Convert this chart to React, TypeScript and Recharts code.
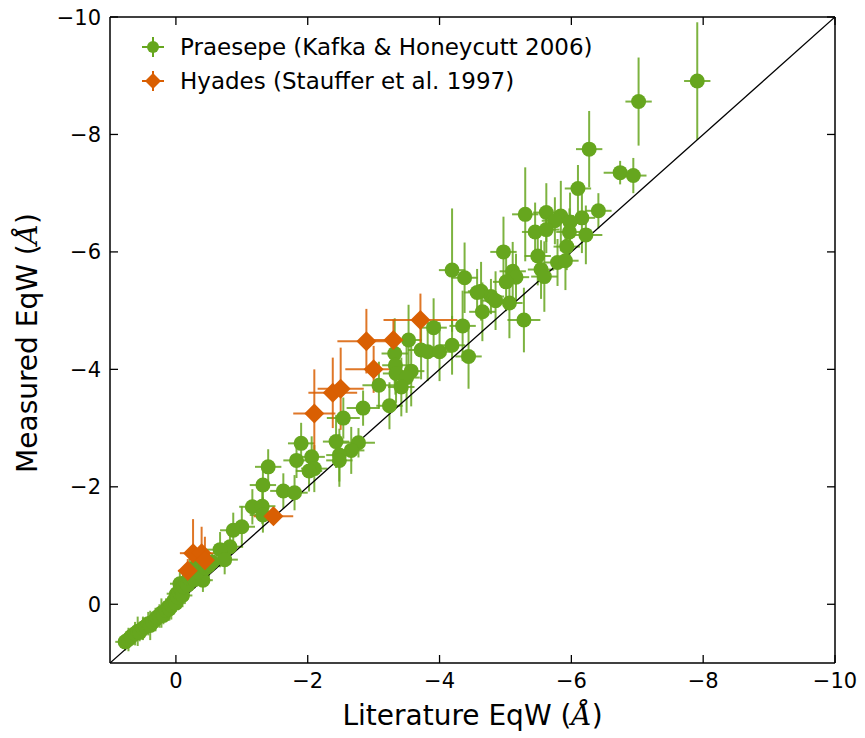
import React from "react";
import { ScatterChart, Scatter, XAxis, YAxis, ErrorBar, Legend } from "recharts";

// Praesepe (Kafka & Honeycutt 2006)
const praesepeLit = [
  -7.91, -7.02, -6.27, -6.74, -6.94, -6.1, -6.41, -6.16, -5.3, -5.62,
  -5.84, -5.75, -5.98, -5.45, -5.62, -5.97, -6.22, -4.97, -5.49, -5.93,
  -5.79, -5.91, -5.54, -5.59, -5.11, -5.16, -5.01, -4.78, -4.85, -5.06,
  -4.63, -4.65, -5.28, -4.19, -4.38, -4.57, -4.35, -4.19, -4.44, -3.91,
  -3.53, -3.32, -3.72, -3.82, -4.0, -3.33, -3.34, -3.57, -3.5, -3.42,
  -3.08, -3.24, -2.84, -2.54, -1.9, -2.43, -2.77, -2.66, -2.48, -2.48,
  -1.83, -2.06, -2.1, -2.02, -1.63, -1.8, -1.4, -1.32, -1.16, -1.31,
  -1.32, -1.0, -0.87, -0.82, -0.67, -0.74, -0.41, -0.3, -0.21, -0.06,
  -0.01,
  0.77, 0.72, 0.68, 0.62, 0.58, 0.55, 0.5, 0.46, 0.42, 0.39,
  0.35, 0.31, 0.29, 0.25, 0.22, 0.19, 0.15, 0.12, 0.1, 0.07,
  0.04, 0.02, 0.0, -0.03, -0.05, -0.08, -0.1, -0.12, -0.15, -0.18,
  -0.2, -0.25, -0.28, -0.33, -0.36, -0.45, -0.5, -0.55,
];
const praesepeMeas = [
  -8.91, -8.56, -7.75, -7.35, -7.3, -7.08, -6.7, -6.58, -6.64, -6.67,
  -6.61, -6.53, -6.51, -6.34, -6.38, -6.34, -6.29, -6.0, -5.93, -6.09,
  -5.82, -5.85, -5.7, -5.58, -5.67, -5.57, -5.49, -5.24, -5.17, -5.13,
  -5.33, -4.98, -4.84, -5.69, -5.56, -5.31, -4.74, -4.41, -4.22, -4.71,
  -4.5, -4.27, -4.33, -4.3, -4.3, -4.07, -3.93, -3.97, -3.86, -3.7,
  -3.73, -3.38, -3.34, -3.17, -2.74, -2.77, -2.75, -2.62, -2.54, -2.45,
  -2.45, -2.51, -2.31, -2.27, -1.93, -1.9, -2.34, -2.03, -1.66, -1.67,
  -1.52, -1.32, -1.26, -0.98, -0.93, -0.76, -0.41, -0.64, -0.58, -0.35,
  -0.18,
  0.64, 0.6, 0.55, 0.5, 0.46, 0.48, 0.41, 0.38, 0.33, 0.36,
  0.3, 0.26, 0.22, 0.2, 0.15, 0.19, 0.1, 0.05, 0.08, 0.01,
  -0.04, -0.08, -0.02, -0.12, -0.2, -0.25, -0.15, -0.3, -0.38, -0.33,
  -0.45, -0.5, -0.42, -0.55, -0.7, -0.62, -0.66, -0.72,
];
const praesepeLitErr = [
  0.2, 0.2, 0.2, 0.25, 0.2, 0.2, 0.2, 0.2, 0.2, 0.2,
  0.2, 0.2, 0.2, 0.2, 0.2, 0.2, 0.25, 0.2, 0.2, 0.2,
  0.2, 0.2, 0.2, 0.2, 0.2, 0.2, 0.2, 0.2, 0.2, 0.2,
  0.2, 0.2, 0.25, 0.2, 0.2, 0.2, 0.2, 0.2, 0.2, 0.2,
  0.2, 0.2, 0.2, 0.2, 0.2, 0.2, 0.2, 0.2, 0.2, 0.2,
  0.25, 0.2, 0.25, 0.25, 0.2, 0.2, 0.25, 0.2, 0.2, 0.2,
  0.2, 0.2, 0.2, 0.2, 0.2, 0.2, 0.2, 0.2, 0.2, 0.2,
  0.2, 0.2, 0.2, 0.2, 0.2, 0.2, 0.15, 0.15, 0.15, 0.15,
  0.15,
  0.15, 0.12, 0.15, 0.12, 0.15, 0.12, 0.15, 0.12, 0.15, 0.12,
  0.15, 0.12, 0.15, 0.12, 0.15, 0.12, 0.15, 0.12, 0.15, 0.12,
  0.15, 0.12, 0.15, 0.12, 0.15, 0.12, 0.15, 0.12, 0.15, 0.12,
  0.15, 0.12, 0.15, 0.12, 0.15, 0.12, 0.15, 0.12,
];
const praesepeMeasErr = [
  1.0, 0.75, 0.65, 0.2, 0.3, 0.4, 0.3, 0.6, 0.8, 0.5,
  0.6, 0.4, 0.5, 0.5, 0.4, 0.4, 0.5, 0.6, 0.5, 0.4,
  0.4, 0.5, 0.5, 0.6, 0.5, 0.4, 0.5, 0.3, 0.5, 0.6,
  0.5, 0.5, 0.55, 1.05, 0.6, 0.4, 0.6, 0.5, 0.55, 0.5,
  0.6, 0.6, 0.5, 0.5, 0.5, 0.5, 0.5, 0.6, 0.6, 0.5,
  0.4, 0.4, 0.3, 0.35, 0.35, 0.45, 0.25, 0.4, 0.45, 0.45,
  0.3, 0.35, 0.4, 0.35, 0.3, 0.3, 0.3, 0.3, 0.3, 0.3,
  0.3, 0.35, 0.3, 0.3, 0.3, 0.25, 0.2, 0.3, 0.3, 0.2,
  0.2,
  0.15, 0.2, 0.15, 0.2, 0.25, 0.15, 0.2, 0.15, 0.2, 0.25,
  0.15, 0.2, 0.15, 0.2, 0.25, 0.15, 0.2, 0.15, 0.2, 0.25,
  0.15, 0.2, 0.15, 0.2, 0.25, 0.15, 0.2, 0.15, 0.2, 0.25,
  0.15, 0.2, 0.15, 0.2, 0.25, 0.15, 0.2, 0.15,
];

// Hyades (Stauffer et al. 1997)
const hyadesLit = [-0.18, -0.26, -0.39, -0.44, -1.48, -2.1, -2.38, -2.5, -2.89, -3.0, -3.3, -3.71];
const hyadesMeas = [-0.57, -0.87, -0.87, -0.75, -1.5, -3.25, -3.6, -3.67, -4.48, -4.0, -4.5, -4.84];
const hyadesLitErr = [0.15, 0.2, 0.2, 0.2, 0.3, 0.32, 0.37, 0.35, 0.44, 0.43, 0.3, 0.56];
const hyadesMeasErr = [0.2, 0.58, 0.45, 0.4, 0.15, 0.75, 0.6, 0.7, 0.55, 0.4, 0.35, 0.45];

const ticks = [0, -2, -4, -6, -8, -10];
const domain: [number, number] = [-10, 1];
const diagonal = [
  { lit: 1, meas: 1 },
  { lit: -10, meas: -10 },
];

const GREEN = "#66a61e";
const ORANGE = "#d95f02";
const FONT = "DejaVu Sans, sans-serif";

const praesepe = praesepeLit.map((lit, i) => ({
  lit,
  meas: praesepeMeas[i],
  litErr: praesepeLitErr[i],
  measErr: praesepeMeasErr[i],
}));
const hyades = hyadesLit.map((lit, i) => ({
  lit,
  meas: hyadesMeas[i],
  litErr: hyadesLitErr[i],
  measErr: hyadesMeasErr[i],
}));

const fmt = (v: number) => (v < 0 ? `\u2212${Math.abs(v)}` : `${v}`);

const BottomTick = ({ x, y, payload }: any) => (
  <g>
    <line x1={x} y1={y} x2={x} y2={y - 8} stroke="#000" strokeWidth={1.3} />
    <text x={x} y={y + 25} textAnchor="middle" fontSize={21} fontFamily={FONT} fill="#000">
      {fmt(payload.value)}
    </text>
  </g>
);
const LeftTick = ({ x, y, payload }: any) => (
  <g>
    <line x1={x} y1={y} x2={x + 8} y2={y} stroke="#000" strokeWidth={1.3} />
    <text x={x - 9} y={y + 7.5} textAnchor="end" fontSize={21} fontFamily={FONT} fill="#000">
      {fmt(payload.value)}
    </text>
  </g>
);
const TopTick = ({ x, y }: any) => (
  <line x1={x} y1={y} x2={x} y2={y + 8} stroke="#000" strokeWidth={1.3} />
);
const RightTick = ({ x, y }: any) => (
  <line x1={x} y1={y} x2={x - 8} y2={y} stroke="#000" strokeWidth={1.3} />
);

const Circle = ({ cx, cy }: any) => <circle cx={cx} cy={cy} r={7.5} fill={GREEN} />;
const Diamond = ({ cx, cy }: any) => (
  <polygon
    points={`${cx},${cy - 10} ${cx + 10},${cy} ${cx},${cy + 10} ${cx - 10},${cy}`}
    fill={ORANGE}
  />
);

const Angstrom = () => (
  <tspan fontFamily="DejaVu Serif, serif" fontStyle="italic">
    Å
  </tspan>
);

const XTitle = ({ viewBox }: any) => (
  <text
    x={viewBox.x + viewBox.width / 2}
    y={viewBox.y + 62}
    textAnchor="middle"
    fontSize={28}
    fontFamily={FONT}
    fill="#000"
  >
    Literature EqW (<Angstrom />)
  </text>
);
const YTitle = () => (
  <text
    x={37}
    y={343}
    transform="rotate(-90, 37, 343)"
    textAnchor="middle"
    fontSize={28}
    fontFamily={FONT}
    fill="#000"
  >
    Measured EqW (<Angstrom />)
  </text>
);

const LegendBox = () => (
  <svg width={480} height={76}>
    <line x1={14} y1={19} x2={36} y2={19} stroke={GREEN} strokeWidth={2} />
    <line x1={25} y1={9} x2={25} y2={29} stroke={GREEN} strokeWidth={2} />
    <circle cx={25} cy={19} r={6} fill={GREEN} />
    <text x={52} y={27} fontSize={23} fontFamily={FONT} fill="#000">
      Praesepe (Kafka &amp; Honeycutt 2006)
    </text>
    <line x1={14} y1={53} x2={36} y2={53} stroke={ORANGE} strokeWidth={2} />
    <line x1={25} y1={43} x2={25} y2={63} stroke={ORANGE} strokeWidth={2} />
    <polygon points="25,45 33,53 25,61 17,53" fill={ORANGE} />
    <text x={52} y={61} fontSize={23} fontFamily={FONT} fill="#000">
      Hyades (Stauffer et al. 1997)
    </text>
  </svg>
);

export default function App() {
  return (
    <div style={{ width: 865, height: 738 }}>
      <style>{"body{margin:0}"}</style>
      <ScatterChart width={865} height={738} margin={{ top: 16, right: 29, bottom: 10, left: 10 }}>
        <XAxis
          type="number"
          dataKey="lit"
          domain={domain}
          reversed
          allowDataOverflow
          ticks={ticks}
          interval={0}
          height={65}
          tickSize={0}
          tickMargin={0}
          tickLine={false}
          tick={<BottomTick />}
          axisLine={{ stroke: "#000", strokeWidth: 1.5 }}
          label={{ content: XTitle }}
        />
        <XAxis
          xAxisId="top"
          orientation="top"
          type="number"
          dataKey="lit"
          domain={domain}
          reversed
          allowDataOverflow
          ticks={ticks}
          interval={0}
          height={1}
          tickSize={0}
          tickMargin={0}
          tickLine={false}
          tick={<TopTick />}
          axisLine={{ stroke: "#000", strokeWidth: 1.5 }}
        />
        <YAxis
          type="number"
          dataKey="meas"
          domain={domain}
          reversed
          allowDataOverflow
          ticks={ticks}
          interval={0}
          width={100}
          tickSize={0}
          tickMargin={0}
          tickLine={false}
          tick={<LeftTick />}
          axisLine={{ stroke: "#000", strokeWidth: 1.5 }}
          label={{ content: YTitle }}
        />
        <YAxis
          yAxisId="right"
          orientation="right"
          type="number"
          dataKey="meas"
          domain={domain}
          reversed
          allowDataOverflow
          ticks={ticks}
          interval={0}
          width={1}
          tickSize={0}
          tickMargin={0}
          tickLine={false}
          tick={<RightTick />}
          axisLine={{ stroke: "#000", strokeWidth: 1.5 }}
        />
        <Scatter
          data={diagonal}
          line={{ stroke: "#000", strokeWidth: 1.3 }}
          shape={() => <g />}
          legendType="none"
          isAnimationActive={false}
        />
        <Scatter data={praesepe} shape={<Circle />} isAnimationActive={false}>
          <ErrorBar dataKey="litErr" direction="x" width={0} stroke={GREEN} strokeOpacity={0.85} strokeWidth={2} />
          <ErrorBar dataKey="measErr" direction="y" width={0} stroke={GREEN} strokeOpacity={0.85} strokeWidth={2} />
        </Scatter>
        <Scatter data={hyades} shape={<Diamond />} isAnimationActive={false}>
          <ErrorBar dataKey="litErr" direction="x" width={0} stroke={ORANGE} strokeOpacity={0.85} strokeWidth={2} />
          <ErrorBar dataKey="measErr" direction="y" width={0} stroke={ORANGE} strokeOpacity={0.85} strokeWidth={2} />
        </Scatter>
        <Legend
          layout="vertical"
          align="center"
          verticalAlign="middle"
          content={() => <LegendBox />}
          wrapperStyle={{ top: 28, left: 128, width: 480 }}
        />
      </ScatterChart>
    </div>
  );
}
